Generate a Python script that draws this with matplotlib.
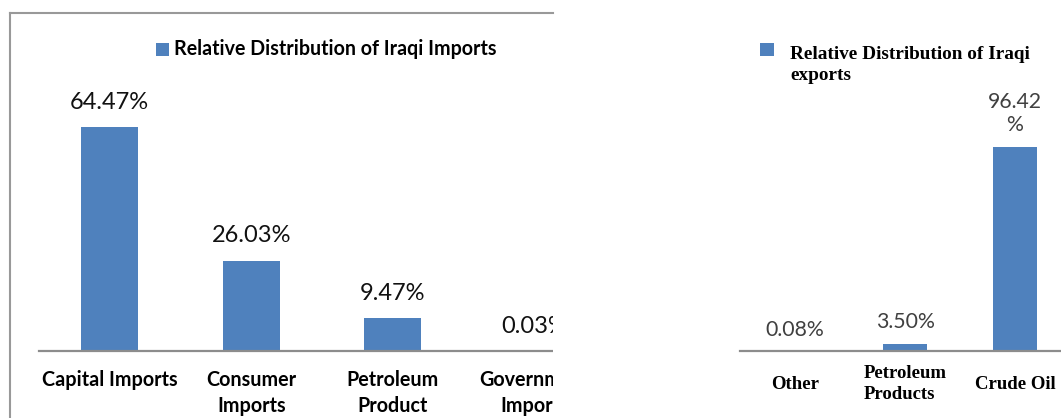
import matplotlib.pyplot as plt
from matplotlib.patches import Rectangle
from matplotlib.lines import Line2D

# data
imp_categories = ["Capital Imports", "Consumer\nImports", "Petroleum\nProduct", "Government\nImports"]
imp_values = [64.47, 26.03, 9.47, 0.03]
imp_labels = ["64.47%", "26.03%", "9.47%", "0.03%"]

exp_categories = ["Other", "Petroleum\nProducts", "Crude Oil"]
exp_values = [0.08, 3.50, 96.42]
exp_labels = ["0.08%", "3.50%", "96.42\n%"]

BLUE = "#4F81BD"
GRID_GRAY = "#8C8C8C"

W, H = 1061, 418
fig = plt.figure(figsize=(W / 100, H / 100), dpi=100)


def px(x0, y0, w, h):
    # pixel box (top-left origin) -> figure fraction
    return [x0 / W, (H - y0 - h) / H, w / W, h / H]


# ---- left chart: imports ----
ax1 = fig.add_axes(px(39, 351 - 278, 566, 278))
x1 = range(len(imp_values))
ax1.bar(x1, imp_values, width=0.4, color=BLUE)
ax1.set_xlim(-0.5, len(imp_values) - 0.5)
ax1.set_ylim(0, 80)
for xi, v, lab in zip(x1, imp_values, imp_labels):
    ax1.annotate(lab, (xi, v), xytext=(0, 13), textcoords="offset points",
                 ha="center", va="baseline", fontsize=17, family="Lato", color="#111111")
ax1.set_xticks(list(x1))
ax1.set_xticklabels(imp_categories, fontsize=14.2, family="Lato", fontweight="bold",
                    linespacing=1.42)
ax1.tick_params(axis="x", length=0, pad=13.5)
ax1.set_yticks([])
for s in ["left", "right", "top"]:
    ax1.spines[s].set_visible(False)
ax1.spines["bottom"].set_color(GRID_GRAY)
ax1.spines["bottom"].set_linewidth(1.6)

# legend (imports)
fig.add_artist(Rectangle((156 / W, (H - 56) / H), 13 / W, 13 / H,
                         transform=fig.transFigure, color=BLUE, lw=0))
fig.text(174 / W, (H - 49) / H, "Relative Distribution of Iraqi Imports", ha="left",
         va="center", fontsize=14.1, family="Lato", fontweight="bold")

# ---- right chart: exports ----
ax2 = fig.add_axes(px(740, 351 - 212, 330, 212))
x2 = range(len(exp_values))
ax2.bar(x2, exp_values, width=0.4, color=BLUE)
ax2.set_xlim(-0.5, len(exp_values) - 0.5)
ax2.set_ylim(0, 100)
for xi, v, lab in zip(x2, exp_values, exp_labels):
    ax2.annotate(lab, (xi, v), xytext=(0, 8), textcoords="offset points",
                 ha="center", va="bottom", fontsize=15.3, family="Lato", color="#404040",
                 linespacing=1.2)
ax2.set_xticks(list(x2))
ax2.set_xticklabels(exp_categories, fontsize=13.5, family="Liberation Serif",
                    fontweight="bold", linespacing=1.3, multialignment="left")
plt.setp(ax2.get_xticklabels(), va="center")
ax2.tick_params(axis="x", length=0, pad=24)
ax2.set_yticks([])
for s in ["left", "right", "top"]:
    ax2.spines[s].set_visible(False)
ax2.spines["bottom"].set_color(GRID_GRAY)
ax2.spines["bottom"].set_linewidth(1.6)

fig.add_artist(Rectangle((760 / W, (H - 56) / H), 14 / W, 13 / H,
                         transform=fig.transFigure, color=BLUE, lw=0))
fig.text(790 / W, (H - 46) / H, "Relative Distribution of Iraqi\nexports", ha="left",
         va="top", fontsize=13.9, family="Liberation Serif", fontweight="bold",
         linespacing=1.28)

# white gap between the two cropped charts
cover = Rectangle((553 / W, 0), (736 - 553) / W, 1, transform=fig.transFigure,
                  color="white", lw=0, zorder=20)
fig.add_artist(cover)

# border of the left (cropped) chart
fig.add_artist(Line2D([10 / W, 10 / W], [0, (H - 13) / H], transform=fig.transFigure,
                      color="#999999", lw=1.5, zorder=21))
fig.add_artist(Line2D([10 / W, 553 / W], [(H - 13) / H, (H - 13) / H],
                      transform=fig.transFigure, color="#999999", lw=1.5, zorder=21))

fig.savefig("out.png", dpi=100)
